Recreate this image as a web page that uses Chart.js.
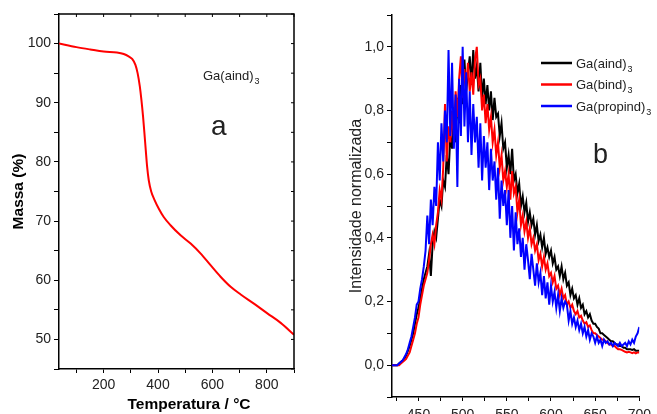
<!DOCTYPE html>
<html>
<head>
<meta charset="utf-8">
<script src="https://cdn.jsdelivr.net/npm/chart.js@4"></script>
<style>
  body { margin: 0; background: #fff; }
  .wrap { position: relative; width: 657px; height: 414px; overflow: hidden; }
  canvas { position: absolute; top: 0; }
</style>
</head>
<body>
<div class="wrap">
  <canvas id="tgaChart" width="330" height="414" style="left:0"></canvas>
  <canvas id="plChart" width="327" height="414" style="left:330px"></canvas>
</div>
<script>
// ---------------------------Data------------------------------------------------
// (a) TGA of Ga(aind)3
const tempC = [36, 100, 151, 200, 249, 274, 292, 305, 317, 325, 333, 339, 345, 350, 355, 360, 366, 375, 387, 403, 421, 446, 483, 520, 557, 594, 630, 667, 704, 754, 802, 851, 900];
const massPct = [100, 99.4, 99.0, 98.65, 98.5, 98.25, 97.85, 97.4, 96.4, 95.0, 92.8, 90.5, 87.7, 84.9, 82.0, 79.2, 76.9, 75.0, 73.6, 72.1, 70.7, 69.3, 67.6, 66.2, 64.5, 62.5, 60.6, 58.9, 57.6, 56.0, 54.4, 52.8, 50.8];

// (b) normalized emission, one value every 2 nm from 420 to 700 nm
const waveStart = 420;
const waveStep = 2;
const aind = [
  0.00, 0.00, 0.00, 0.00, 0.005,  0.01, 0.015, 0.02, 0.03, 0.045,
  0.06, 0.08, 0.10, 0.13, 0.16,   0.18, 0.21, 0.24, 0.27, 0.29,
  0.31, 0.35, 0.28, 0.38, 0.42,   0.40, 0.46, 0.52, 0.50, 0.58,
  0.56, 0.66, 0.60, 0.72, 0.68,   0.78, 0.70, 0.84, 0.76, 0.88,
  0.82, 0.96, 0.86, 0.92, 0.97,   0.88, 0.99, 0.90, 0.94, 0.86,
  0.95, 0.84, 0.90, 0.82, 0.88,   0.80, 0.86, 0.77, 0.84, 0.78,
  0.79, 0.72, 0.76, 0.68, 0.70,   0.62, 0.66, 0.60, 0.68, 0.58,
  0.60, 0.54, 0.57, 0.50, 0.53,   0.48, 0.51, 0.45, 0.48, 0.44,
  0.46, 0.41, 0.44, 0.39, 0.41,   0.37, 0.40, 0.35, 0.37, 0.34,
  0.36, 0.32, 0.34, 0.30, 0.31,   0.28, 0.31, 0.27, 0.29, 0.25,
  0.26, 0.22, 0.24, 0.21, 0.22,   0.19, 0.21, 0.18, 0.19, 0.16,
  0.17, 0.15, 0.16, 0.14, 0.13,   0.13, 0.12, 0.115, 0.10, 0.10,
  0.095, 0.09, 0.085, 0.08, 0.075, 0.075, 0.07, 0.065, 0.065, 0.06,
  0.06, 0.055, 0.055, 0.05, 0.05, 0.05, 0.048, 0.05, 0.045, 0.045,
  0.045
];
const bind = [
  0.00, 0.00, 0.00, 0.00, 0.00,   0.005, 0.01, 0.015, 0.02, 0.03,
  0.04, 0.06, 0.08, 0.10, 0.13,   0.15, 0.19, 0.22, 0.25, 0.27,
  0.29, 0.33, 0.38, 0.41, 0.38,   0.44, 0.48, 0.55, 0.52, 0.62,
  0.82, 0.64, 0.75, 0.70, 0.80,   0.72, 0.86, 0.78, 0.90, 0.97,
  0.84, 0.93, 0.88, 0.95, 0.86,   0.92, 0.85, 0.96, 1.00, 0.88,
  0.90, 0.80, 0.85, 0.76, 0.82,   0.74, 0.78, 0.70, 0.74, 0.66,
  0.70, 0.62, 0.66, 0.58, 0.61,   0.56, 0.60, 0.52, 0.61, 0.54,
  0.56, 0.48, 0.52, 0.44, 0.47,   0.42, 0.45, 0.40, 0.43, 0.38,
  0.40, 0.36, 0.38, 0.33, 0.35,   0.31, 0.34, 0.30, 0.32, 0.28,
  0.29, 0.26, 0.28, 0.24, 0.25,   0.22, 0.24, 0.21, 0.22, 0.19,
  0.20, 0.18, 0.19, 0.17, 0.16,   0.17, 0.15, 0.155, 0.14, 0.13,
  0.135, 0.12, 0.125, 0.11, 0.10, 0.10, 0.095, 0.09, 0.085, 0.08,
  0.08, 0.075, 0.07, 0.065, 0.065, 0.06, 0.06, 0.055, 0.05, 0.05,
  0.048, 0.045, 0.042, 0.04, 0.042, 0.04, 0.038, 0.04, 0.037, 0.04,
  0.04
];
const propind = [
  0.00, 0.00, 0.00, 0.00, 0.005,  0.01, 0.015, 0.025, 0.035, 0.05,
  0.07, 0.09, 0.12, 0.15, 0.19,   0.20, 0.24, 0.27, 0.31, 0.36,
  0.47, 0.38, 0.52, 0.44, 0.56,   0.50, 0.70, 0.58, 0.76, 0.64,
  0.80, 0.70, 0.99, 0.72, 0.95,   0.68, 0.85, 0.56, 0.90, 0.72,
  1.00, 0.75, 0.92, 0.70, 0.86,   0.66, 0.82, 0.70, 0.78, 0.62,
  0.76, 0.58, 0.72, 0.62, 0.70,   0.55, 0.68, 0.58, 0.64, 0.52,
  0.62, 0.46, 0.58, 0.50, 0.55,   0.44, 0.55, 0.40, 0.50, 0.36,
  0.48, 0.38, 0.43, 0.34, 0.40,   0.30, 0.38, 0.33, 0.27, 0.35,
  0.30, 0.25, 0.32, 0.26, 0.29,   0.22, 0.28, 0.21, 0.26, 0.19,
  0.25, 0.20, 0.23, 0.18, 0.22,   0.17, 0.21, 0.18, 0.20, 0.19,
  0.14, 0.17, 0.13, 0.15, 0.12,   0.14, 0.11, 0.13, 0.10, 0.12,
  0.09, 0.11, 0.08, 0.10, 0.09,   0.07, 0.09, 0.07, 0.08, 0.06,
  0.08, 0.07, 0.075, 0.065, 0.07, 0.06, 0.07, 0.065, 0.06, 0.07,
  0.06, 0.065, 0.07, 0.06, 0.075, 0.065, 0.08, 0.07, 0.09, 0.10,
  0.12
];
const seriesNames = ["Ga(aind)", "Ga(bind)", "Ga(propind)"];
const seriesColors = ["#000000", "#ff0000", "#0000ff"];
// ----------------------------------------------------------------------------------------------

const FONT = "'Liberation Sans', Arial, sans-serif";
Chart.defaults.font.family = FONT;
Chart.defaults.color = "#222";

// text with a small subscript after it
function subText(ctx, main, sub, x, y, size) {
  ctx.font = size + "px " + FONT;
  ctx.fillText(main, x, y);
  const w = ctx.measureText(main).width;
  ctx.font = Math.round(size * 0.7) + "px " + FONT;
  ctx.fillText(sub, x + w + 1, y + 4);
}

function xyPoints(xs, ys) {
  return ys.map((v, i) => ({ x: xs[i], y: v }));
}

const wavelengths = aind.map((_, i) => waveStart + i * waveStep);

// ---------------------------Chart a: TGA------------------------------------------------
const tgaDecor = {
  id: "tgaDecor",
  afterDraw(chart) {
    const { ctx, chartArea: a, scales } = chart;
    ctx.save();
    ctx.strokeStyle = "#000";
    ctx.lineWidth = 1.5;
    ctx.beginPath();
    ctx.moveTo(a.left, a.top); ctx.lineTo(a.right, a.top); ctx.lineTo(a.right, a.bottom);
    ctx.stroke();
    // inward ticks on top and right
    ctx.lineWidth = 1;
    ctx.beginPath();
    scales.x.ticks.forEach(t => {
      const px = scales.x.getPixelForValue(t.value);
      ctx.moveTo(px, a.top); ctx.lineTo(px, a.top + 3);
    });
    scales.y.ticks.forEach(t => {
      const py = scales.y.getPixelForValue(t.value);
      ctx.moveTo(a.right, py); ctx.lineTo(a.right - 3, py);
    });
    ctx.stroke();

    ctx.fillStyle = "#222";
    ctx.textBaseline = "alphabetic";
    subText(ctx, "Ga(aind)", "3", 203, 80, 13);
    ctx.font = "28px " + FONT;
    ctx.fillText("a", 211, 135);
    ctx.fillStyle = "#000";
    ctx.font = "bold 15.5px " + FONT;
    ctx.textAlign = "center";
    ctx.textBaseline = "middle";
    ctx.fillText("Temperatura / °C", 189, 405);
    ctx.restore();
  }
};

new Chart(document.getElementById("tgaChart"), {
  type: "line",
  data: {
    datasets: [{
      data: xyPoints(tempC, massPct),
      borderColor: "#ff0000",
      borderWidth: 2,
      pointRadius: 0,
      cubicInterpolationMode: "monotone",
    }],
  },
  options: {
    responsive: false,
    animation: false,
    devicePixelRatio: 1,
    layout: { padding: { top: 14, right: 36, left: 0, bottom: 0 } },
    plugins: { legend: { display: false }, tooltip: { enabled: false } },
    scales: {
      x: {
        type: "linear",
        min: 36, max: 900,
        afterFit: s => { s.height = 45; },
        grid: { drawOnChartArea: false, tickLength: 4, color: "#000" },
        border: { color: "#000", width: 1.5 },
        ticks: {
          stepSize: 100, includeBounds: false, maxRotation: 0, autoSkip: false,
          padding: 4, font: { size: 14 },
          callback: v => (v % 200 === 0 ? String(v) : ""),
        },
      },
      y: {
        min: 45, max: 105,
        afterFit: s => { s.width = 59; },
        grid: { drawOnChartArea: false, tickLength: 5, color: "#000" },
        border: { color: "#000", width: 1.5 },
        ticks: {
          stepSize: 5, includeBounds: false, autoSkip: false, padding: 3,
          font: { size: 14 },
          callback: v => (v % 10 === 0 ? String(v) : ""),
        },
        title: {
          display: true, text: "Massa (%)", color: "#000",
          font: { size: 15.5, weight: "bold" }, padding: { top: 9, bottom: 0 },
        },
      },
    },
  },
  plugins: [tgaDecor],
});

// ---------------------------Chart b: emission------------------------------------------------
const plDecor = {
  id: "plDecor",
  afterDraw(chart) {
    const { ctx } = chart;
    ctx.save();
    ctx.textBaseline = "alphabetic";
    seriesNames.forEach((name, i) => {
      const y = 63 + i * 21.5;
      ctx.strokeStyle = seriesColors[i];
      ctx.lineWidth = 2.5;
      ctx.beginPath();
      ctx.moveTo(541 - 330, y); ctx.lineTo(572 - 330, y);
      ctx.stroke();
      ctx.fillStyle = "#222";
      subText(ctx, name, "3", 576 - 330, y + 4.5, 13);
    });
    ctx.fillStyle = "#222";
    ctx.font = "27px " + FONT;
    ctx.fillText("b", 593 - 330, 163);
    ctx.restore();
  }
};

new Chart(document.getElementById("plChart"), {
  type: "line",
  data: {
    datasets: [aind, bind, propind].map((vals, i) => ({
      data: xyPoints(wavelengths, vals),
      borderColor: seriesColors[i],
      borderWidth: 2,
      pointRadius: 0,
      tension: 0,
      order: 3 - i,
    })),
  },
  options: {
    responsive: false,
    animation: false,
    devicePixelRatio: 1,
    layout: { padding: { top: 15, right: 11, left: 0, bottom: 0 } },
    plugins: { legend: { display: false }, tooltip: { enabled: false } },
    scales: {
      x: {
        type: "linear",
        min: 420, max: 700,
        afterFit: s => { s.height = 17; },
        grid: { drawOnChartArea: false, tickLength: 4, color: "#000" },
        border: { color: "#000", width: 1.5 },
        ticks: {
          stepSize: 25, includeBounds: false, maxRotation: 0, autoSkip: false,
          padding: 6, font: { size: 14 },
          callback: v => (v % 50 === 0 ? String(v) : ""),
        },
      },
      y: {
        min: -0.1, max: 1.1,
        afterFit: s => { s.width = 62; },
        grid: { drawOnChartArea: false, tickLength: 5, color: "#000" },
        border: { color: "#000", width: 1.5 },
        ticks: {
          stepSize: 0.1, includeBounds: false, autoSkip: false, padding: 3,
          font: { size: 14 },
          callback: v => {
            const k = Math.round(v * 10);
            return k % 2 === 0 ? (k / 10).toFixed(1).replace(".", ",") : "";
          },
        },
        title: {
          display: true, text: "Intensidade normalizada", color: "#222",
          font: { size: 16 }, padding: { top: 17, bottom: 0 },
        },
      },
    },
  },
  plugins: [plDecor],
});
</script>
</body>
</html>
